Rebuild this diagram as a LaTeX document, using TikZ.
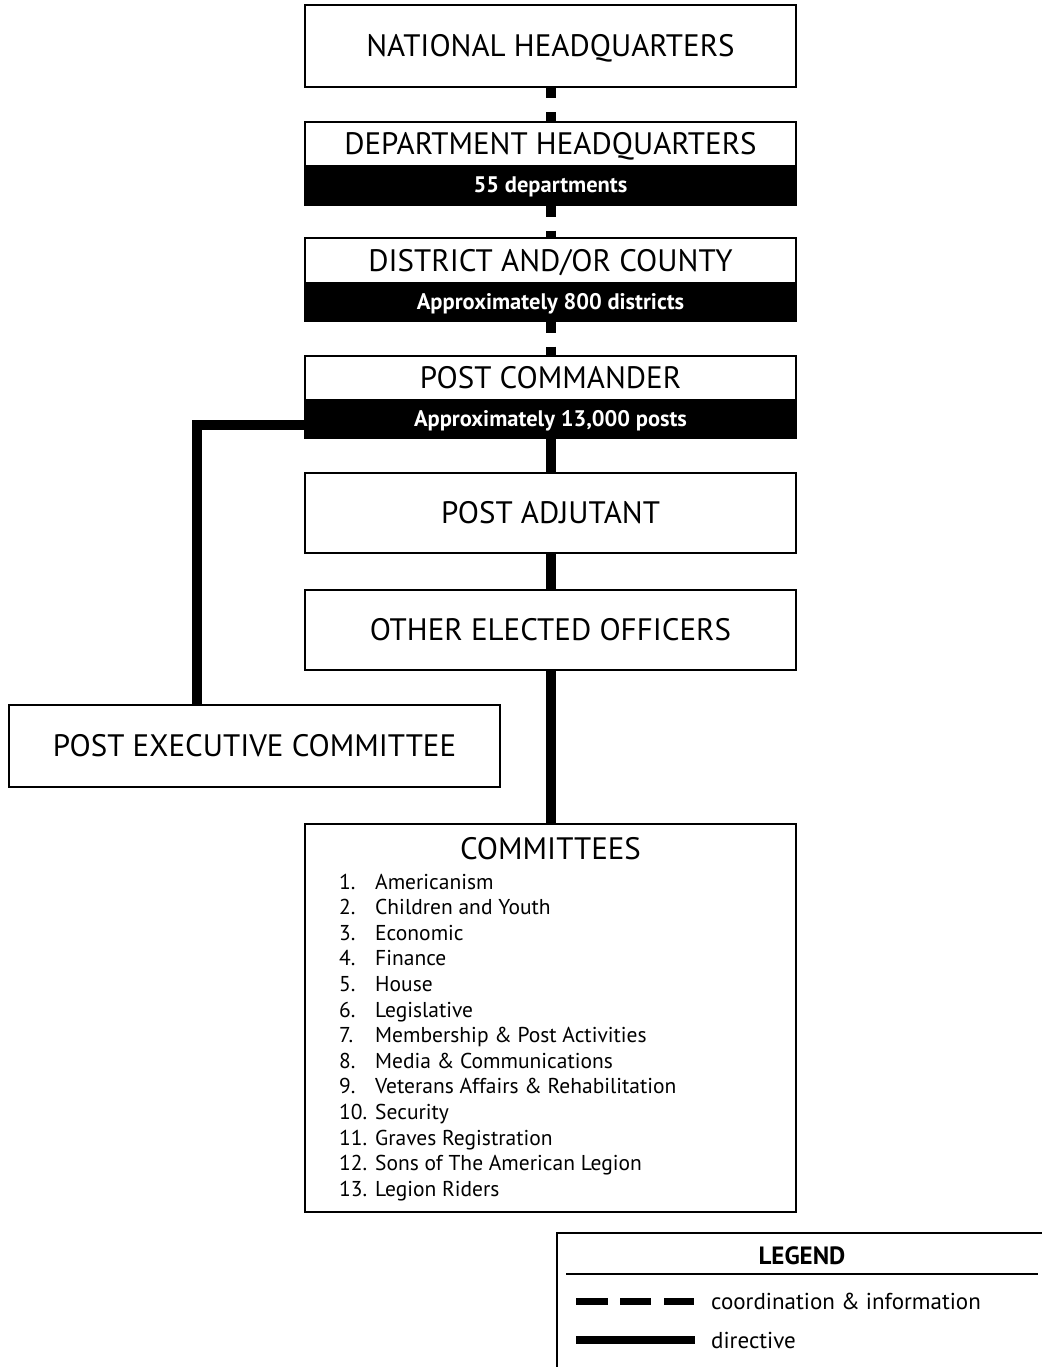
\documentclass[tikz,border=0pt]{standalone}
\usepackage{fontspec}
\setmainfont{PT Sans}
\begin{document}
\begin{tikzpicture}[x=1pt,y=-1pt,
  box/.style={draw, line width=2pt, fill=white, minimum width=491pt, inner sep=0pt,
    text height=21.5pt, text depth=0pt, font=\fontsize{31}{31}\selectfont},
  band/.style={draw, line width=2pt, fill=black, text=white, minimum width=491pt, inner sep=0pt,
    text height=15pt, text depth=0pt, font=\fontsize{22.5}{22.5}\selectfont\bfseries},
  coord/.style={line width=10pt, dash pattern={on 10.5pt off 14pt on 10.5pt}},
  direct/.style={line width=10pt},
  item/.style={anchor=base west, inner sep=0pt, font=\fontsize{21.5}{22}\selectfont},
  legtext/.style={anchor=west, inner sep=0pt, font=\fontsize{23}{23}\selectfont},
]
\useasboundingbox (0,0) rectangle (1041,1367);
\fill[white] (0,0) rectangle (1041,1367);

% boxes
\node[box, minimum height=82pt] (nh) at (550.5,46) {NATIONAL HEADQUARTERS};
\node[box, minimum height=44pt] (dh) at (550.5,144) {DEPARTMENT HEADQUARTERS};
\node[band, minimum height=39pt] (dhb) at (550.5,185.5) {55 departments};
\node[box, minimum height=45pt] (dc) at (550.5,260.5) {DISTRICT AND/OR COUNTY};
\node[band, minimum height=38pt] (dcb) at (550.5,302) {Approximately 800 districts};
\node[box, minimum height=44pt] (pc) at (550.5,378) {POST COMMANDER};
\node[band, minimum height=38pt] (pcb) at (550.5,419) {Approximately 13,000 posts};
\node[box, minimum height=80pt] (pa) at (550.5,513) {POST ADJUTANT};
\node[box, minimum height=80pt] (oe) at (550.5,630) {OTHER ELECTED OFFICERS};
\node[box, minimum height=82pt] (pec) at (254.5,746) {POST EXECUTIVE COMMITTEE};
\node[box, minimum height=388pt] (com) at (550.5,1018) {};
\node[inner sep=0pt, font=\fontsize{31}{31}\selectfont, anchor=base] (comt) at (550.5,859) {COMMITTEES};

\foreach \n/\t [count=\i from 0] in {1./Americanism, 2./Children and Youth, 3./Economic, 4./Finance, 5./House, 6./Legislative, 7./Membership \& Post Activities, 8./Media \& Communications, 9./Veterans Affairs \& Rehabilitation, 10./Security, 11./Graves Registration, 12./Sons of The American Legion, 13./Legion Riders}{
  \node[item] (num\i) at (339,889+25.6*\i) {\n};
  \node[item] (itm\i) at (375,889+25.6*\i) {\t};
}

% connectors
\draw[coord] (nh.south) -- (dh.north);
\draw[coord] (dhb.south) -- (dcb.north |- dc.north);
\draw[coord] (dcb.south) -- (pc.north);
\draw[direct] (pcb.south) -- (pa.north);
\draw[direct] (pa.south) -- (oe.north);
\draw[direct] (oe.south) -- (com.north);
\coordinate (pecin) at ([xshift=-57.5pt]pec.north);
\draw[direct] ([yshift=-6pt]pcb.west) -| (pecin);

% legend
\draw[line width=2pt] (1050,1233) -- (557,1233) -- (557,1380);
\node[inner sep=0pt, font=\fontsize{25}{25}\selectfont\bfseries] (legt) at (802,1256) {LEGEND};
\draw[line width=2pt] (566,1274) -- (1038,1274);
\coordinate (l1a) at (576,1301);
\coordinate (l1b) at (695,1301);
\coordinate (l2a) at (576,1340);
\coordinate (l2b) at (695,1340);
\draw[line width=7pt, dash pattern={on 32pt off 12pt on 31pt off 13pt on 30pt}] (l1a) -- (l1b);
\draw[line width=8pt] (l2a) -- (l2b);
\node[legtext] (lg1) at (711,1301) {coordination \& information};
\node[legtext] (lg2) at (711,1340) {directive};
\end{tikzpicture}
\end{document}
